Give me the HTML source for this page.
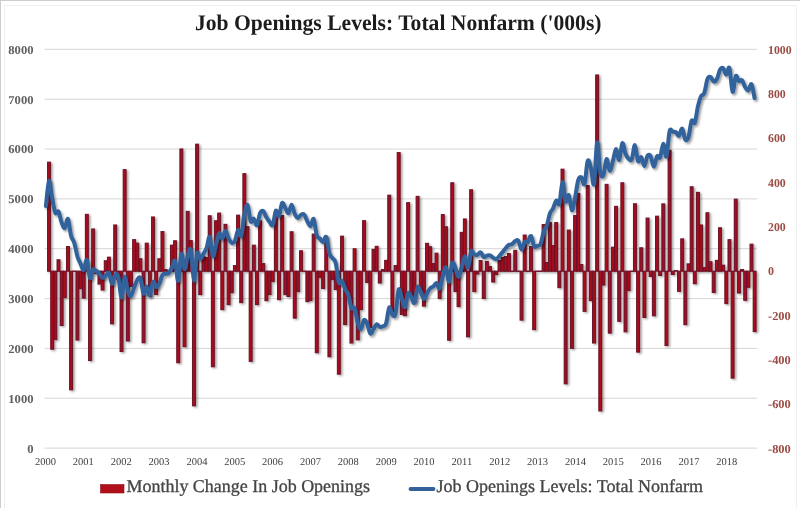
<!DOCTYPE html>
<html><head><meta charset="utf-8"><title>Job Openings</title>
<style>
html,body{margin:0;padding:0;background:#fff;}
body{width:800px;height:508px;overflow:hidden;font-family:"Liberation Serif",serif;}
svg{display:block;will-change:transform;opacity:0.999;font-family:"Liberation Serif",serif;}
text{text-rendering:geometricPrecision;}
</style></head><body>
<svg width="800" height="508" viewBox="0 0 800 508">
<defs>
<filter id="sh" x="-5%" y="-5%" width="110%" height="110%"><feDropShadow dx="1.6" dy="1.2" stdDeviation="0.9" flood-color="#000" flood-opacity="0.38"/></filter>
<filter id="sh2" x="-5%" y="-5%" width="110%" height="110%"><feDropShadow dx="1.6" dy="1.8" stdDeviation="1.1" flood-color="#000" flood-opacity="0.4"/></filter>
</defs>
<rect x="0" y="0" width="800" height="508" fill="#fff"/>
<path d="M0,0.5H800M0.5,0V508" fill="none" stroke="#cdcdcd" stroke-width="1"/><path d="M4.5,508V5.5H796.5V508" fill="none" stroke="#efefef" stroke-width="1"/>
<text x="195" y="30" font-size="22.3" font-weight="bold" fill="#1c1c1c" id="title" textLength="406.5" lengthAdjust="spacingAndGlyphs">Job Openings Levels: Total Nonfarm ('000s)</text>
<g stroke="#d6d6d6" stroke-width="1"><line x1="44.5" x2="757" y1="49.3" y2="49.3"/><line x1="44.5" x2="757" y1="99.2" y2="99.2"/><line x1="44.5" x2="757" y1="149.0" y2="149.0"/><line x1="44.5" x2="757" y1="198.9" y2="198.9"/><line x1="44.5" x2="757" y1="248.7" y2="248.7"/><line x1="44.5" x2="757" y1="298.6" y2="298.6"/><line x1="44.5" x2="757" y1="348.4" y2="348.4"/><line x1="44.5" x2="757" y1="398.2" y2="398.2"/><line x1="44.5" x2="757" y1="448.1" y2="448.1"/></g>
<g font-size="12" font-weight="bold" fill="#606060"><text x="33.5" y="53.7" text-anchor="end" textLength="25.2" lengthAdjust="spacingAndGlyphs">8000</text><text x="33.5" y="103.6" text-anchor="end" textLength="25.2" lengthAdjust="spacingAndGlyphs">7000</text><text x="33.5" y="153.4" text-anchor="end" textLength="25.2" lengthAdjust="spacingAndGlyphs">6000</text><text x="33.5" y="203.2" text-anchor="end" textLength="25.2" lengthAdjust="spacingAndGlyphs">5000</text><text x="33.5" y="253.1" text-anchor="end" textLength="25.2" lengthAdjust="spacingAndGlyphs">4000</text><text x="33.5" y="302.9" text-anchor="end" textLength="25.2" lengthAdjust="spacingAndGlyphs">3000</text><text x="33.5" y="352.8" text-anchor="end" textLength="25.2" lengthAdjust="spacingAndGlyphs">2000</text><text x="33.5" y="402.6" text-anchor="end" textLength="25.2" lengthAdjust="spacingAndGlyphs">1000</text><text x="33.5" y="452.5" text-anchor="end" textLength="6.3" lengthAdjust="spacingAndGlyphs">0</text></g>
<g font-size="12" font-weight="bold" fill="#9c4c46"><text x="768" y="53.7" textLength="23.6" lengthAdjust="spacingAndGlyphs">1000</text><text x="768" y="98.0" textLength="17.8" lengthAdjust="spacingAndGlyphs">800</text><text x="768" y="142.4" textLength="17.8" lengthAdjust="spacingAndGlyphs">600</text><text x="768" y="186.7" textLength="17.8" lengthAdjust="spacingAndGlyphs">400</text><text x="768" y="231.0" textLength="17.8" lengthAdjust="spacingAndGlyphs">200</text><text x="768" y="275.3" textLength="6.0" lengthAdjust="spacingAndGlyphs">0</text><text x="768" y="319.7" textLength="22.8" lengthAdjust="spacingAndGlyphs">-200</text><text x="768" y="364.0" textLength="22.8" lengthAdjust="spacingAndGlyphs">-400</text><text x="768" y="408.3" textLength="22.8" lengthAdjust="spacingAndGlyphs">-600</text><text x="768" y="452.7" textLength="22.8" lengthAdjust="spacingAndGlyphs">-800</text></g>
<g font-size="10.5" fill="#404040"><text x="45.5" y="464.8" text-anchor="middle">2000</text><text x="83.3" y="464.8" text-anchor="middle">2001</text><text x="121.2" y="464.8" text-anchor="middle">2002</text><text x="159.1" y="464.8" text-anchor="middle">2003</text><text x="196.9" y="464.8" text-anchor="middle">2004</text><text x="234.8" y="464.8" text-anchor="middle">2005</text><text x="272.6" y="464.8" text-anchor="middle">2006</text><text x="310.4" y="464.8" text-anchor="middle">2007</text><text x="348.3" y="464.8" text-anchor="middle">2008</text><text x="386.2" y="464.8" text-anchor="middle">2009</text><text x="424.0" y="464.8" text-anchor="middle">2010</text><text x="461.9" y="464.8" text-anchor="middle">2011</text><text x="499.7" y="464.8" text-anchor="middle">2012</text><text x="537.5" y="464.8" text-anchor="middle">2013</text><text x="575.4" y="464.8" text-anchor="middle">2014</text><text x="613.2" y="464.8" text-anchor="middle">2015</text><text x="651.1" y="464.8" text-anchor="middle">2016</text><text x="689.0" y="464.8" text-anchor="middle">2017</text><text x="726.8" y="464.8" text-anchor="middle">2018</text></g>
<g fill="#a8101e" stroke="#6e1328" stroke-width="1.1" filter="url(#sh)"><rect x="47.62" y="162.2" width="2.85" height="109.0"/><rect x="50.77" y="271.2" width="2.85" height="78.0"/><rect x="53.92" y="271.2" width="2.85" height="68.3"/><rect x="57.07" y="259.8" width="2.85" height="11.5"/><rect x="60.22" y="271.2" width="2.85" height="54.3"/><rect x="63.37" y="271.2" width="2.85" height="26.3"/><rect x="66.53" y="246.6" width="2.85" height="24.6"/><rect x="69.67" y="271.2" width="2.85" height="118.6"/><rect x="72.83" y="271.1" width="2.85" height="0.3"/><rect x="75.98" y="271.2" width="2.85" height="68.8"/><rect x="79.12" y="271.2" width="2.85" height="17.3"/><rect x="82.27" y="271.2" width="2.85" height="26.9"/><rect x="85.42" y="214.4" width="2.85" height="56.8"/><rect x="88.58" y="271.2" width="2.85" height="89.3"/><rect x="91.73" y="229.0" width="2.85" height="42.2"/><rect x="94.88" y="271.2" width="2.85" height="2.3"/><rect x="98.02" y="271.2" width="2.85" height="12.8"/><rect x="101.17" y="271.2" width="2.85" height="18.8"/><rect x="104.33" y="260.8" width="2.85" height="10.5"/><rect x="107.48" y="257.2" width="2.85" height="14.0"/><rect x="110.62" y="271.2" width="2.85" height="52.6"/><rect x="113.77" y="225.0" width="2.85" height="46.2"/><rect x="116.92" y="271.2" width="2.85" height="8.3"/><rect x="120.08" y="271.2" width="2.85" height="80.3"/><rect x="123.23" y="169.7" width="2.85" height="101.5"/><rect x="126.37" y="271.2" width="2.85" height="69.8"/><rect x="129.53" y="271.2" width="2.85" height="15.3"/><rect x="132.68" y="239.7" width="2.85" height="31.5"/><rect x="135.83" y="243.2" width="2.85" height="28.0"/><rect x="138.98" y="258.8" width="2.85" height="12.5"/><rect x="142.12" y="271.2" width="2.85" height="71.5"/><rect x="145.28" y="243.2" width="2.85" height="28.0"/><rect x="148.43" y="271.2" width="2.85" height="25.3"/><rect x="151.58" y="217.0" width="2.85" height="54.2"/><rect x="154.73" y="271.2" width="2.85" height="23.3"/><rect x="157.88" y="258.8" width="2.85" height="12.5"/><rect x="161.03" y="231.6" width="2.85" height="39.6"/><rect x="164.18" y="269.6" width="2.85" height="1.6"/><rect x="167.33" y="270.6" width="2.85" height="0.6"/><rect x="170.48" y="245.2" width="2.85" height="26.0"/><rect x="173.63" y="240.8" width="2.85" height="30.4"/><rect x="176.78" y="271.2" width="2.85" height="91.5"/><rect x="179.93" y="149.0" width="2.85" height="122.2"/><rect x="183.08" y="271.2" width="2.85" height="75.5"/><rect x="186.23" y="211.4" width="2.85" height="59.8"/><rect x="189.38" y="240.6" width="2.85" height="30.6"/><rect x="192.53" y="271.2" width="2.85" height="134.6"/><rect x="195.68" y="144.2" width="2.85" height="127.1"/><rect x="198.83" y="271.2" width="2.85" height="23.4"/><rect x="201.98" y="256.6" width="2.85" height="14.6"/><rect x="205.13" y="257.6" width="2.85" height="13.6"/><rect x="208.28" y="215.8" width="2.85" height="55.4"/><rect x="211.43" y="271.2" width="2.85" height="95.5"/><rect x="214.58" y="220.8" width="2.85" height="50.4"/><rect x="217.73" y="213.1" width="2.85" height="58.1"/><rect x="220.88" y="271.2" width="2.85" height="38.4"/><rect x="224.03" y="224.4" width="2.85" height="46.8"/><rect x="227.18" y="271.2" width="2.85" height="33.4"/><rect x="230.33" y="271.2" width="2.85" height="21.4"/><rect x="233.48" y="265.6" width="2.85" height="5.6"/><rect x="236.63" y="215.2" width="2.85" height="56.0"/><rect x="239.78" y="271.2" width="2.85" height="31.4"/><rect x="242.93" y="173.7" width="2.85" height="97.5"/><rect x="246.08" y="226.7" width="2.85" height="44.5"/><rect x="249.23" y="271.2" width="2.85" height="90.1"/><rect x="252.38" y="245.2" width="2.85" height="26.0"/><rect x="255.53" y="271.2" width="2.85" height="33.4"/><rect x="258.67" y="220.8" width="2.85" height="50.4"/><rect x="261.82" y="263.6" width="2.85" height="7.6"/><rect x="264.97" y="271.2" width="2.85" height="29.4"/><rect x="268.12" y="271.2" width="2.85" height="23.3"/><rect x="271.27" y="271.2" width="2.85" height="10.3"/><rect x="274.42" y="211.6" width="2.85" height="59.6"/><rect x="277.57" y="271.2" width="2.85" height="28.4"/><rect x="280.72" y="215.6" width="2.85" height="55.6"/><rect x="283.88" y="271.2" width="2.85" height="23.4"/><rect x="287.02" y="271.2" width="2.85" height="25.3"/><rect x="290.17" y="231.8" width="2.85" height="39.4"/><rect x="293.32" y="271.2" width="2.85" height="46.9"/><rect x="296.47" y="271.2" width="2.85" height="20.3"/><rect x="299.62" y="250.8" width="2.85" height="20.4"/><rect x="302.77" y="271.1" width="2.85" height="0.3"/><rect x="305.92" y="271.2" width="2.85" height="30.4"/><rect x="309.07" y="271.2" width="2.85" height="29.3"/><rect x="312.22" y="234.1" width="2.85" height="37.1"/><rect x="315.37" y="271.2" width="2.85" height="81.5"/><rect x="318.52" y="271.2" width="2.85" height="6.3"/><rect x="321.67" y="271.2" width="2.85" height="17.3"/><rect x="324.82" y="236.6" width="2.85" height="34.6"/><rect x="327.97" y="271.2" width="2.85" height="85.5"/><rect x="331.12" y="271.2" width="2.85" height="8.3"/><rect x="334.27" y="271.2" width="2.85" height="18.3"/><rect x="337.42" y="271.2" width="2.85" height="102.9"/><rect x="340.57" y="236.2" width="2.85" height="35.0"/><rect x="343.72" y="271.2" width="2.85" height="53.4"/><rect x="346.87" y="271.2" width="2.85" height="20.3"/><rect x="350.02" y="271.2" width="2.85" height="71.8"/><rect x="353.17" y="248.8" width="2.85" height="22.4"/><rect x="356.32" y="271.2" width="2.85" height="68.6"/><rect x="359.47" y="271.2" width="2.85" height="38.3"/><rect x="362.62" y="220.7" width="2.85" height="50.5"/><rect x="365.77" y="271.2" width="2.85" height="11.3"/><rect x="368.92" y="271.2" width="2.85" height="56.3"/><rect x="372.07" y="249.4" width="2.85" height="21.8"/><rect x="375.22" y="246.4" width="2.85" height="24.8"/><rect x="378.37" y="271.2" width="2.85" height="11.8"/><rect x="381.52" y="269.6" width="2.85" height="1.6"/><rect x="384.67" y="260.4" width="2.85" height="10.8"/><rect x="387.82" y="195.2" width="2.85" height="76.0"/><rect x="390.97" y="271.2" width="2.85" height="40.3"/><rect x="394.12" y="265.6" width="2.85" height="5.6"/><rect x="397.27" y="152.6" width="2.85" height="118.6"/><rect x="400.42" y="271.2" width="2.85" height="43.3"/><rect x="403.57" y="271.2" width="2.85" height="44.4"/><rect x="406.72" y="202.7" width="2.85" height="68.5"/><rect x="409.87" y="271.2" width="2.85" height="24.3"/><rect x="413.02" y="271.2" width="2.85" height="31.3"/><rect x="416.17" y="196.4" width="2.85" height="74.8"/><rect x="419.32" y="271.2" width="2.85" height="20.3"/><rect x="422.47" y="271.2" width="2.85" height="34.9"/><rect x="425.62" y="243.4" width="2.85" height="27.8"/><rect x="428.77" y="246.8" width="2.85" height="24.4"/><rect x="431.92" y="263.6" width="2.85" height="7.6"/><rect x="435.07" y="253.2" width="2.85" height="18.0"/><rect x="438.22" y="271.2" width="2.85" height="27.3"/><rect x="441.37" y="214.6" width="2.85" height="56.6"/><rect x="444.52" y="226.8" width="2.85" height="44.4"/><rect x="447.67" y="271.2" width="2.85" height="69.0"/><rect x="450.82" y="182.8" width="2.85" height="88.5"/><rect x="453.97" y="271.2" width="2.85" height="20.3"/><rect x="457.12" y="271.2" width="2.85" height="35.4"/><rect x="460.27" y="232.4" width="2.85" height="38.8"/><rect x="463.42" y="219.0" width="2.85" height="52.2"/><rect x="466.57" y="271.2" width="2.85" height="65.6"/><rect x="469.72" y="189.8" width="2.85" height="81.5"/><rect x="472.87" y="271.2" width="2.85" height="20.4"/><rect x="476.02" y="271.2" width="2.85" height="2.8"/><rect x="479.17" y="260.6" width="2.85" height="10.6"/><rect x="482.32" y="271.2" width="2.85" height="27.3"/><rect x="485.47" y="261.6" width="2.85" height="9.6"/><rect x="488.62" y="266.6" width="2.85" height="4.6"/><rect x="491.77" y="271.2" width="2.85" height="10.8"/><rect x="494.92" y="271.2" width="2.85" height="3.3"/><rect x="498.07" y="260.6" width="2.85" height="10.6"/><rect x="501.22" y="257.6" width="2.85" height="13.6"/><rect x="504.37" y="256.6" width="2.85" height="14.6"/><rect x="507.52" y="253.6" width="2.85" height="17.6"/><rect x="510.68" y="271.1" width="2.85" height="0.3"/><rect x="513.82" y="250.4" width="2.85" height="20.8"/><rect x="516.97" y="271.1" width="2.85" height="0.3"/><rect x="520.12" y="271.2" width="2.85" height="48.9"/><rect x="523.27" y="235.1" width="2.85" height="36.1"/><rect x="526.42" y="271.1" width="2.85" height="0.3"/><rect x="529.57" y="246.6" width="2.85" height="24.6"/><rect x="532.72" y="271.2" width="2.85" height="58.4"/><rect x="535.87" y="271.1" width="2.85" height="0.3"/><rect x="539.02" y="271.1" width="2.85" height="0.3"/><rect x="542.17" y="224.6" width="2.85" height="46.6"/><rect x="545.32" y="262.6" width="2.85" height="8.6"/><rect x="548.47" y="222.6" width="2.85" height="48.6"/><rect x="551.62" y="245.6" width="2.85" height="25.6"/><rect x="554.77" y="222.6" width="2.85" height="48.6"/><rect x="557.92" y="271.2" width="2.85" height="16.4"/><rect x="561.07" y="169.2" width="2.85" height="102.0"/><rect x="564.22" y="271.2" width="2.85" height="112.6"/><rect x="567.37" y="230.1" width="2.85" height="41.1"/><rect x="570.52" y="271.2" width="2.85" height="77.1"/><rect x="573.67" y="215.6" width="2.85" height="55.6"/><rect x="576.82" y="193.6" width="2.85" height="77.6"/><rect x="579.97" y="264.6" width="2.85" height="6.6"/><rect x="583.12" y="271.2" width="2.85" height="40.1"/><rect x="586.27" y="185.6" width="2.85" height="85.6"/><rect x="589.42" y="271.2" width="2.85" height="29.4"/><rect x="592.57" y="271.2" width="2.85" height="71.8"/><rect x="595.72" y="75.0" width="2.85" height="196.2"/><rect x="598.87" y="271.2" width="2.85" height="139.7"/><rect x="602.02" y="271.2" width="2.85" height="13.8"/><rect x="605.17" y="184.4" width="2.85" height="86.8"/><rect x="608.32" y="271.2" width="2.85" height="61.9"/><rect x="611.47" y="247.2" width="2.85" height="24.0"/><rect x="614.62" y="206.4" width="2.85" height="64.8"/><rect x="617.77" y="271.2" width="2.85" height="50.1"/><rect x="620.92" y="182.8" width="2.85" height="88.5"/><rect x="624.07" y="271.2" width="2.85" height="60.6"/><rect x="627.22" y="271.2" width="2.85" height="19.3"/><rect x="630.37" y="271.1" width="2.85" height="0.3"/><rect x="633.52" y="203.8" width="2.85" height="67.5"/><rect x="636.67" y="271.2" width="2.85" height="80.9"/><rect x="639.82" y="247.8" width="2.85" height="23.4"/><rect x="642.97" y="271.2" width="2.85" height="46.3"/><rect x="646.12" y="218.1" width="2.85" height="53.1"/><rect x="649.27" y="271.2" width="2.85" height="5.3"/><rect x="652.42" y="271.2" width="2.85" height="44.6"/><rect x="655.57" y="216.2" width="2.85" height="54.9"/><rect x="658.72" y="271.2" width="2.85" height="4.3"/><rect x="661.87" y="203.9" width="2.85" height="67.3"/><rect x="665.02" y="271.2" width="2.85" height="74.3"/><rect x="668.17" y="150.4" width="2.85" height="120.8"/><rect x="671.32" y="271.2" width="2.85" height="3.3"/><rect x="674.47" y="270.6" width="2.85" height="0.6"/><rect x="677.62" y="271.2" width="2.85" height="20.1"/><rect x="680.77" y="238.9" width="2.85" height="32.3"/><rect x="683.92" y="271.2" width="2.85" height="53.4"/><rect x="687.07" y="263.9" width="2.85" height="7.3"/><rect x="690.22" y="186.8" width="2.85" height="84.5"/><rect x="693.37" y="271.2" width="2.85" height="12.5"/><rect x="696.52" y="192.4" width="2.85" height="78.8"/><rect x="699.67" y="225.0" width="2.85" height="46.2"/><rect x="702.82" y="267.6" width="2.85" height="3.6"/><rect x="705.97" y="212.8" width="2.85" height="58.4"/><rect x="709.12" y="261.8" width="2.85" height="9.5"/><rect x="712.27" y="271.2" width="2.85" height="21.3"/><rect x="715.42" y="260.4" width="2.85" height="10.8"/><rect x="718.57" y="227.8" width="2.85" height="43.4"/><rect x="721.72" y="265.2" width="2.85" height="5.9"/><rect x="724.87" y="271.2" width="2.85" height="32.4"/><rect x="728.02" y="239.7" width="2.85" height="31.5"/><rect x="731.17" y="271.2" width="2.85" height="106.9"/><rect x="734.32" y="199.2" width="2.85" height="72.0"/><rect x="737.47" y="271.2" width="2.85" height="21.8"/><rect x="740.62" y="269.6" width="2.85" height="1.6"/><rect x="743.77" y="271.2" width="2.85" height="29.1"/><rect x="746.92" y="271.2" width="2.85" height="16.0"/><rect x="750.07" y="244.2" width="2.85" height="27.0"/><rect x="753.22" y="271.2" width="2.85" height="60.4"/></g>
<path d="M45.9,206.0C46.4,201.8 48.0,182.3 49.0,181.0C50.1,179.7 51.1,192.8 52.2,198.0C53.2,203.3 54.3,210.5 55.3,212.8C56.4,215.0 57.5,209.9 58.5,211.5C59.5,213.2 60.6,219.9 61.6,222.6C62.7,225.3 63.8,228.6 64.8,228.0C65.8,227.4 66.9,217.5 68.0,218.9C69.0,220.2 70.0,232.0 71.1,236.0C72.1,240.0 73.2,239.2 74.2,242.6C75.3,246.0 76.4,253.0 77.4,256.5C78.5,260.0 79.5,261.5 80.5,263.7C81.6,266.0 82.6,270.6 83.7,270.0C84.7,269.4 85.8,258.7 86.8,260.0C87.9,261.3 89.0,276.4 90.0,278.0C91.0,279.6 92.1,270.9 93.2,269.7C94.2,268.5 95.2,270.4 96.3,271.0C97.3,271.6 98.4,272.4 99.4,273.5C100.5,274.7 101.5,277.4 102.6,277.8C103.6,278.1 104.7,276.4 105.8,275.6C106.8,274.8 107.9,271.6 108.9,273.0C110.0,274.4 111.0,283.6 112.0,283.9C113.1,284.2 114.1,275.7 115.2,274.6C116.2,273.4 117.3,273.2 118.3,277.0C119.4,280.8 120.5,297.5 121.5,297.5C122.5,297.5 123.6,278.1 124.7,277.0C125.7,275.9 126.7,287.9 127.8,291.1C128.8,294.2 129.9,296.6 130.9,296.0C132.0,295.4 133.0,290.2 134.1,287.6C135.2,284.9 136.2,281.6 137.2,280.0C138.3,278.4 139.4,275.8 140.4,278.1C141.4,280.3 142.5,292.1 143.5,293.5C144.6,294.9 145.6,286.2 146.7,286.6C147.8,286.9 148.8,296.3 149.8,295.5C150.9,294.7 151.9,283.3 153.0,282.0C154.1,280.6 155.1,286.9 156.2,287.2C157.2,287.6 158.2,285.9 159.3,283.9C160.3,281.9 161.4,276.7 162.4,275.0C163.5,273.3 164.5,274.0 165.6,273.7C166.7,273.4 167.7,274.1 168.8,273.0C169.8,272.0 170.8,269.5 171.9,267.5C173.0,265.5 174.0,258.8 175.1,261.0C176.1,263.2 177.1,282.0 178.2,280.8C179.2,279.7 180.3,256.0 181.3,254.0C182.4,252.0 183.4,268.6 184.5,269.0C185.6,269.3 186.6,259.3 187.7,256.1C188.7,252.9 189.8,245.9 190.8,250.0C191.9,254.1 192.9,280.0 193.9,280.5C195.0,281.1 196.0,256.9 197.1,253.2C198.2,249.6 199.2,258.8 200.2,258.9C201.3,259.0 202.3,255.7 203.4,253.9C204.5,252.1 205.5,250.9 206.6,248.1C207.6,245.2 208.6,235.6 209.7,237.0C210.8,238.4 211.8,255.0 212.8,256.2C213.9,257.4 214.9,248.2 216.0,244.4C217.1,240.5 218.1,234.1 219.2,233.2C220.2,232.2 221.2,238.8 222.3,238.4C223.4,238.1 224.4,231.0 225.4,231.0C226.5,231.0 227.5,236.4 228.6,238.4C229.7,240.4 230.7,242.5 231.8,242.9C232.8,243.3 233.8,243.0 234.9,240.8C236.0,238.6 237.0,230.9 238.1,230.0C239.1,229.1 240.1,238.1 241.2,235.6C242.2,233.1 243.3,220.2 244.3,215.1C245.4,210.0 246.4,203.9 247.5,205.0C248.6,206.1 249.6,219.1 250.7,221.4C251.7,223.7 252.8,218.0 253.8,218.7C254.9,219.3 255.9,226.1 256.9,225.2C258.0,224.3 259.0,215.6 260.1,213.2C261.1,210.8 262.2,210.3 263.2,211.0C264.3,211.7 265.3,215.5 266.4,217.3C267.4,219.1 268.5,220.6 269.6,221.9C270.6,223.2 271.6,226.8 272.7,225.0C273.8,223.2 274.8,212.4 275.8,210.8C276.9,209.3 277.9,217.0 279.0,215.7C280.1,214.4 281.1,204.3 282.1,203.0C283.2,201.7 284.2,206.3 285.3,207.9C286.4,209.6 287.4,213.6 288.4,213.1C289.5,212.6 290.5,204.7 291.6,204.8C292.6,205.0 293.7,211.7 294.8,213.9C295.8,216.1 296.8,217.9 297.9,218.0C298.9,218.1 300.0,215.2 301.1,214.7C302.1,214.1 303.1,213.6 304.2,214.7C305.2,215.8 306.3,219.4 307.3,221.3C308.4,223.2 309.4,226.6 310.5,226.2C311.5,225.8 312.6,217.5 313.6,219.0C314.7,220.5 315.7,232.2 316.8,235.5C317.8,238.7 318.9,237.3 319.9,238.5C321.0,239.6 322.0,242.5 323.1,242.2C324.1,242.0 325.2,235.1 326.2,237.0C327.3,238.9 328.3,249.9 329.4,253.4C330.4,256.9 331.5,256.5 332.5,258.1C333.6,259.7 334.6,258.9 335.7,263.0C336.8,267.1 337.8,279.5 338.8,282.5C339.9,285.5 340.9,279.8 342.0,280.9C343.0,281.9 344.1,286.4 345.1,288.8C346.2,291.1 347.2,291.8 348.3,295.0C349.3,298.2 350.4,305.8 351.4,308.0C352.5,310.2 353.5,305.7 354.6,308.2C355.6,310.7 356.7,319.3 357.7,322.8C358.8,326.3 359.8,329.5 360.9,329.0C361.9,328.5 363.0,320.8 364.0,319.9C365.1,319.1 366.1,321.7 367.2,323.9C368.2,326.2 369.3,332.6 370.3,333.5C371.4,334.4 372.4,330.6 373.5,329.1C374.5,327.6 375.6,324.7 376.6,324.3C377.7,324.0 378.7,326.5 379.8,326.8C380.8,327.1 381.9,326.7 382.9,326.2C384.0,325.6 385.0,326.6 386.1,323.5C387.1,320.4 388.2,309.0 389.2,307.5C390.3,306.1 391.3,313.8 392.4,314.8C393.4,315.8 394.5,318.0 395.5,313.8C396.6,309.5 397.6,292.0 398.7,289.5C399.8,287.0 400.8,295.8 401.8,298.7C402.9,301.7 403.9,308.1 405.0,307.1C406.0,306.2 407.1,294.8 408.1,293.2C409.2,291.5 410.2,295.7 411.3,297.3C412.3,298.9 413.4,304.4 414.4,302.7C415.5,301.0 416.5,288.8 417.6,287.0C418.6,285.2 419.7,289.9 420.7,292.0C421.8,294.0 422.8,298.8 423.9,299.1C424.9,299.3 426.0,295.3 427.0,293.5C428.1,291.7 429.1,289.4 430.2,288.3C431.2,287.1 432.3,287.4 433.3,286.5C434.4,285.6 435.4,282.7 436.5,283.0C437.5,283.3 438.6,289.5 439.6,288.3C440.7,287.2 441.7,279.6 442.8,276.1C443.8,272.6 444.9,266.3 445.9,267.3C447.0,268.2 448.0,282.5 449.1,281.8C450.1,281.1 451.2,265.3 452.2,263.0C453.3,260.7 454.3,265.5 455.4,267.8C456.4,270.1 457.5,276.9 458.5,276.9C459.6,276.8 460.6,270.9 461.7,267.4C462.8,264.0 463.8,256.2 464.8,256.2C465.9,256.3 466.9,268.4 468.0,267.6C469.0,266.8 470.1,253.7 471.1,251.5C472.2,249.3 473.2,253.9 474.3,254.5C475.3,255.0 476.4,255.3 477.4,254.9C478.5,254.6 479.5,251.9 480.6,252.3C481.6,252.6 482.7,256.4 483.7,257.0C484.8,257.6 485.8,255.9 486.9,255.6C487.9,255.3 489.0,254.9 490.0,255.3C491.1,255.7 492.1,257.2 493.2,257.8C494.2,258.4 495.3,259.3 496.3,259.0C497.4,258.7 498.4,257.1 499.5,255.9C500.5,254.8 501.6,253.3 502.6,252.0C503.7,250.7 504.7,249.2 505.8,248.0C506.8,246.8 507.9,245.4 508.9,244.8C510.0,244.1 511.1,244.7 512.1,244.1C513.1,243.5 514.2,241.6 515.2,241.0C516.3,240.4 517.4,239.3 518.4,240.8C519.4,242.2 520.5,249.5 521.5,249.6C522.6,249.8 523.7,243.0 524.7,241.8C525.8,240.5 526.8,243.0 527.9,242.1C528.9,241.1 530.0,235.3 531.0,236.0C532.0,236.7 533.1,244.6 534.1,246.3C535.2,247.9 536.2,246.3 537.3,245.9C538.3,245.5 539.4,246.3 540.5,244.0C541.5,241.7 542.6,235.0 543.6,232.0C544.6,228.9 545.7,228.8 546.8,225.7C547.8,222.7 548.9,216.4 549.9,213.5C550.9,210.6 552.0,210.7 553.0,208.5C554.1,206.4 555.2,201.3 556.2,200.5C557.2,199.7 558.3,206.8 559.3,203.7C560.4,200.6 561.5,182.4 562.5,182.1C563.5,181.7 564.6,199.4 565.6,201.5C566.7,203.7 567.8,193.7 568.8,195.2C569.8,196.6 570.9,209.9 571.9,210.3C573.0,210.7 574.0,202.5 575.1,197.5C576.1,192.4 577.2,183.4 578.2,180.1C579.3,176.7 580.4,176.6 581.4,177.3C582.4,177.9 583.5,186.6 584.5,183.9C585.6,181.2 586.6,163.8 587.7,161.0C588.7,158.2 589.8,163.5 590.8,167.4C591.9,171.2 593.0,188.1 594.0,184.0C595.0,179.9 596.1,144.4 597.1,142.5C598.2,140.6 599.2,166.9 600.3,172.3C601.3,177.7 602.4,177.2 603.4,175.0C604.5,172.8 605.5,159.7 606.6,159.0C607.6,158.3 608.7,170.6 609.8,170.9C610.8,171.2 611.9,164.6 612.9,161.0C613.9,157.3 615.0,149.2 616.0,149.0C617.1,148.8 618.1,160.8 619.2,159.9C620.2,158.9 621.3,144.1 622.3,143.1C623.4,142.0 624.5,151.2 625.5,153.8C626.5,156.5 627.6,157.9 628.6,158.8C629.7,159.7 630.8,161.6 631.8,159.3C632.8,157.0 633.9,144.7 634.9,145.1C636.0,145.4 637.0,159.2 638.1,161.2C639.1,163.3 640.2,156.4 641.2,157.1C642.3,157.9 643.4,166.2 644.4,166.0C645.4,165.8 646.5,157.3 647.5,155.7C648.6,154.1 649.6,154.4 650.7,156.3C651.7,158.1 652.8,166.8 653.8,166.8C654.9,166.8 656.0,157.8 657.0,156.2C658.0,154.6 659.1,159.5 660.1,157.4C661.2,155.4 662.2,144.0 663.3,143.8C664.3,143.6 665.4,158.6 666.4,156.5C667.5,154.4 668.5,135.4 669.6,131.2C670.6,127.1 671.7,131.5 672.8,131.7C673.8,131.8 674.9,131.6 675.9,132.2C676.9,132.9 678.0,136.3 679.0,135.7C680.1,135.1 681.1,128.1 682.2,128.7C683.2,129.4 684.3,138.2 685.3,139.6C686.4,141.0 687.5,140.2 688.5,137.1C689.5,134.0 690.6,123.2 691.6,120.8C692.7,118.4 693.8,125.1 694.8,122.7C695.8,120.3 696.9,110.8 697.9,106.4C699.0,101.9 700.0,98.3 701.1,96.1C702.1,94.0 703.2,96.0 704.2,93.2C705.3,90.3 706.4,81.8 707.4,79.1C708.4,76.4 709.5,76.6 710.5,77.0C711.6,77.3 712.6,81.1 713.7,81.5C714.7,81.9 715.8,81.2 716.8,79.2C717.9,77.3 719.0,71.6 720.0,69.8C721.0,67.9 722.1,67.2 723.1,68.0C724.2,68.9 725.2,74.7 726.3,74.7C727.3,74.7 728.4,65.2 729.4,68.0C730.5,70.9 731.5,90.5 732.6,91.8C733.6,93.1 734.7,77.8 735.8,76.0C736.8,74.3 737.9,80.4 738.9,81.1C739.9,81.8 741.0,79.3 742.0,80.3C743.1,81.3 744.1,85.4 745.2,87.1C746.2,88.8 747.3,90.9 748.3,90.4C749.4,89.9 750.5,83.0 751.5,84.3C752.5,85.6 754.1,95.8 754.6,98.1" fill="none" stroke="#33629b" stroke-width="4" stroke-linejoin="round" stroke-linecap="round" filter="url(#sh2)"/>
<rect x="100.5" y="484.5" width="23.5" height="8.5" fill="#b10f1c" stroke="#8e0f18" stroke-width="0.6"/>
<text x="126.5" y="492.3" font-size="18" fill="#444" stroke="#444" stroke-width="0.3" id="leg1" textLength="243.5" lengthAdjust="spacingAndGlyphs">Monthly Change In Job Openings</text>
<path d="M410.5,489 L433.5,489.01" fill="none" stroke="#33629b" stroke-width="3.8" stroke-linecap="round"/>
<text x="436.5" y="492.3" font-size="18" fill="#444" stroke="#444" stroke-width="0.3" id="leg2" textLength="266.5" lengthAdjust="spacingAndGlyphs">Job Openings Levels: Total Nonfarm</text>
</svg>
</body></html>
